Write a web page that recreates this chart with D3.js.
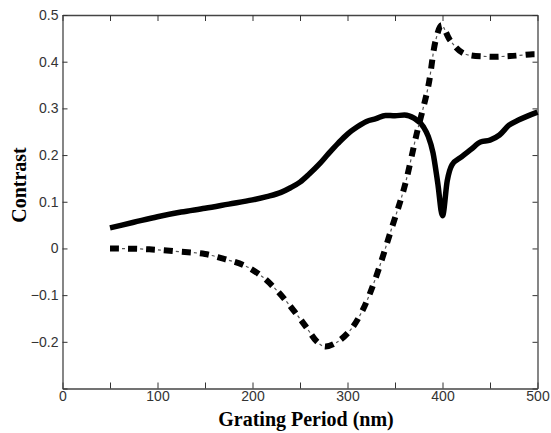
<!DOCTYPE html>
<html>
<head>
<meta charset="utf-8">
<script src="https://cdn.jsdelivr.net/npm/d3@7"></script>
<style>
  body { margin: 0; background: #fff; }
  .tick text { font-family: "Liberation Sans", Arial, sans-serif; font-size: 14px; fill: #333; }
  .title { font-family: "Liberation Serif", "Times New Roman", serif; font-weight: bold; font-size: 20px; fill: #000; }
</style>
</head>
<body>
<script>
// grating period (nm) and contrast
var solidX = [50, 75, 100, 125, 150, 175, 200, 215, 230, 240, 250, 260, 270, 280, 290, 300, 310, 320, 330, 340, 350, 360, 370, 380, 385, 390, 395, 400, 405, 410, 420, 430, 440, 450, 460, 470, 480, 490, 500];
var solidY = [0.044, 0.056, 0.068, 0.078, 0.086, 0.095, 0.104, 0.111, 0.12, 0.13, 0.142, 0.16, 0.18, 0.203, 0.225, 0.245, 0.26, 0.272, 0.278, 0.285, 0.284, 0.286, 0.279, 0.26, 0.24, 0.205, 0.14, 0.07, 0.145, 0.179, 0.196, 0.212, 0.228, 0.232, 0.243, 0.264, 0.275, 0.284, 0.292];

var dashX = [50, 80, 100, 124, 150, 171, 192, 210, 227, 243, 256, 268, 276, 288, 303, 316, 329, 346, 360, 373, 385, 393, 399, 408, 422, 447, 471, 495, 500];
var dashY = [0.0, -0.001, -0.003, -0.007, -0.012, -0.023, -0.037, -0.06, -0.093, -0.132, -0.167, -0.2, -0.21, -0.202, -0.175, -0.132, -0.067, 0.04, 0.132, 0.247, 0.347, 0.447, 0.478, 0.446, 0.418, 0.411, 0.412, 0.416, 0.416];

var xTicks = [0, 50, 100, 150, 200, 250, 300, 350, 400, 450, 500];
var yTicks = [-0.3, -0.2, -0.1, 0, 0.1, 0.2, 0.3, 0.4, 0.5];

var margin = { top: 15, right: 13.5, bottom: 44.5, left: 62.5 },
    width = 551 - margin.left - margin.right,
    height = 433 - margin.top - margin.bottom;

var x = d3.scaleLinear().domain([0, 500]).range([0, width]);
var y = d3.scaleLinear().domain([-0.3, 0.5]).range([height, 0]);

var svg = d3.select("body").append("svg")
    .attr("width", 551)
    .attr("height", 433)
    .append("g")
    .attr("transform", "translate(" + margin.left + "," + margin.top + ")");

function xLabel(d) { return d % 100 === 0 ? d : ""; }
function yLabel(d) { return d < -0.25 ? "" : (d === 0 ? "0" : d3.format(".1f")(d)); }

// bottom + top axes, ticks pointing inward
svg.append("g")
    .attr("transform", "translate(0," + height + ")")
    .call(d3.axisBottom(x).tickValues(xTicks).tickSizeInner(-6).tickSizeOuter(0).tickPadding(3).tickFormat(xLabel));
svg.append("g")
    .call(d3.axisTop(x).tickValues(xTicks).tickSizeInner(-6).tickSizeOuter(0).tickFormat(""));

svg.append("g")
    .call(d3.axisLeft(y).tickValues(yTicks).tickSizeInner(-5).tickSizeOuter(0).tickPadding(4).tickFormat(yLabel));
svg.append("g")
    .attr("transform", "translate(" + width + ",0)")
    .call(d3.axisRight(y).tickValues(yTicks).tickSizeInner(-5).tickSizeOuter(0).tickFormat(""));

svg.selectAll(".domain").attr("stroke", "#444").attr("stroke-width", 1.3);
svg.selectAll(".tick line").attr("stroke", "#333");

var line = d3.line()
    .x(function(d) { return x(d[0]); })
    .y(function(d) { return y(d[1]); })
    .curve(d3.curveMonotoneX);

svg.append("path")
    .datum(d3.zip(solidX, solidY))
    .attr("fill", "none")
    .attr("stroke", "#000")
    .attr("stroke-width", 5.5)
    .attr("stroke-linejoin", "round")
    .attr("d", line);

var dashLine = d3.line()
    .x(function(d) { return x(d[0]); })
    .y(function(d) { return y(d[1]); })
    .curve(d3.curveCatmullRom);

// thick dashes
svg.append("path")
    .datum(d3.zip(dashX, dashY))
    .attr("fill", "none")
    .attr("stroke", "#000")
    .attr("stroke-width", 6)
    .attr("stroke-dasharray", "9,9")
    .attr("d", dashLine);

// thin "dots" between dashes
svg.append("path")
    .datum(d3.zip(dashX, dashY))
    .attr("fill", "none")
    .attr("stroke", "#555")
    .attr("stroke-width", 1.2)
    .attr("stroke-dasharray", "0,12,3,3")
    .attr("d", dashLine);

svg.append("text")
    .attr("class", "title")
    .attr("x", 306 - margin.left)
    .attr("y", 426 - margin.top)
    .attr("text-anchor", "middle")
    .text("Grating Period (nm)");

svg.append("text")
    .attr("class", "title")
    .attr("transform", "translate(" + (26 - margin.left) + "," + (185 - margin.top) + ") rotate(-90)")
    .attr("text-anchor", "middle")
    .text("Contrast");
</script>
</body>
</html>
